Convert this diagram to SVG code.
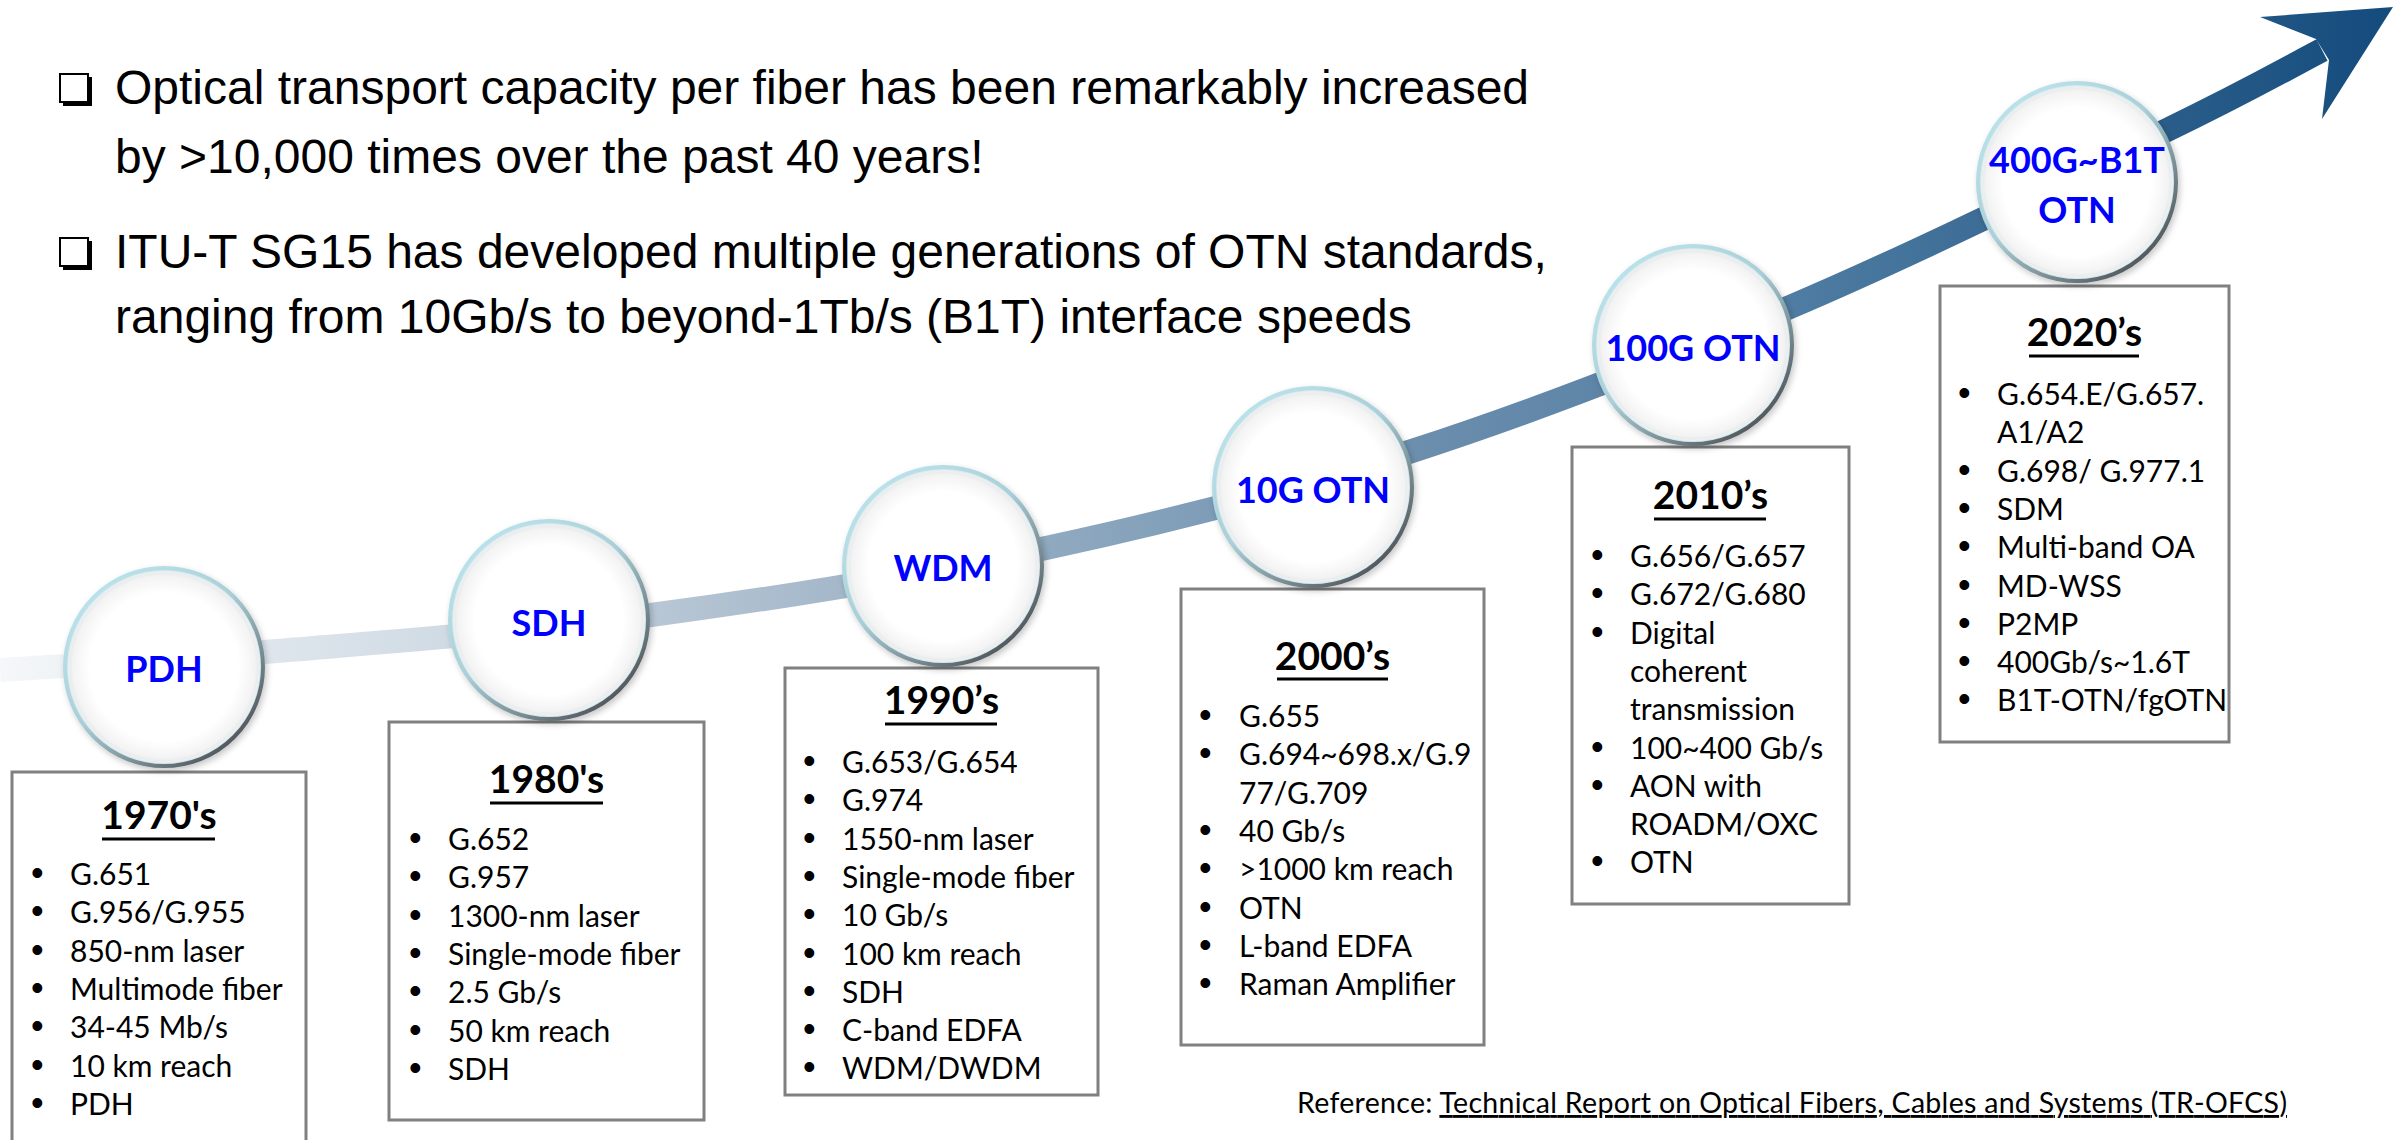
<svg xmlns="http://www.w3.org/2000/svg" width="2402" height="1140" viewBox="0 0 2402 1140">
<defs>
<style>
.title{font-family:"Liberation Sans",Arial,sans-serif;font-size:48px;fill:#000}
.lbl{font-family:Lato,"Open Sans",sans-serif;font-weight:700;font-size:36px;fill:#0000ff;text-anchor:middle}
.hdr{font-family:Lato,"Open Sans",sans-serif;font-weight:700;font-size:39px;fill:#000;text-anchor:middle}
.item{font-family:Lato,"Open Sans",sans-serif;font-size:30px;fill:#000}
.b{font-family:"Liberation Sans",Arial,sans-serif;font-size:36px}
.ref{font-family:Lato,"Open Sans",sans-serif;font-size:28.5px;fill:#000}
.box{fill:#fff;stroke:#808080;stroke-width:3}
.ul{stroke:#000;stroke-width:3}
.glass{fill:url(#glassFill);stroke:url(#rim);stroke-width:4;filter:url(#shadow)}
.hl{fill:none;stroke:#e4f4f8;stroke-width:2;opacity:.8}
.cb{fill:#fff;stroke:#000;stroke-width:2}
</style>
<linearGradient id="bandGrad" gradientUnits="userSpaceOnUse" x1="0" y1="0" x2="2395" y2="0">
<stop offset="0" stop-color="#f5f7f9"/>
<stop offset="0.11" stop-color="#dfe6ed"/>
<stop offset="0.19" stop-color="#cfdae4"/>
<stop offset="0.31" stop-color="#aebfcf"/>
<stop offset="0.44" stop-color="#8fa9c0"/>
<stop offset="0.54" stop-color="#7596b3"/>
<stop offset="0.63" stop-color="#6589aa"/>
<stop offset="0.75" stop-color="#4e7ca2"/>
<stop offset="0.84" stop-color="#3a6a94"/>
<stop offset="0.90" stop-color="#2b5e8a"/>
<stop offset="1" stop-color="#134b7d"/>
</linearGradient>
<radialGradient id="glassFill" cx="0.5" cy="0.5" r="0.5">
<stop offset="0" stop-color="#ffffff"/>
<stop offset="0.75" stop-color="#ffffff"/>
<stop offset="0.92" stop-color="#f3f3f3"/>
<stop offset="1" stop-color="#dcdcdc"/>
</radialGradient>
<linearGradient id="rim" x1="0.15" y1="0.1" x2="0.85" y2="0.9">
<stop offset="0" stop-color="#b9e3ec"/>
<stop offset="0.45" stop-color="#a9cfd8"/>
<stop offset="1" stop-color="#4f565c"/>
</linearGradient>
<filter id="shadow" x="-20%" y="-20%" width="140%" height="140%">
<feDropShadow dx="2" dy="3" stdDeviation="3" flood-color="#000" flood-opacity="0.22"/>
</filter>
</defs>
<rect width="2402" height="1140" fill="#fff"/>

<g id="title-bullets">
<rect class="cb" x="60" y="74" width="28" height="28"/>
<rect x="63" y="101" width="29" height="5" fill="#000"/>
<rect x="87" y="77" width="5" height="29" fill="#000"/>
<text class="title" x="115" y="104">Optical transport capacity per fiber has been remarkably increased</text>
<text class="title" x="115" y="173">by &gt;10,000 times over the past 40 years!</text>
<rect class="cb" x="60" y="238" width="28" height="28"/>
<rect x="63" y="265" width="29" height="5" fill="#000"/>
<rect x="87" y="241" width="5" height="29" fill="#000"/>
<text class="title" x="115" y="268">ITU-T SG15 has developed multiple generations of OTN standards,</text>
<text class="title" x="115" y="333">ranging from 10Gb/s to beyond-1Tb/s (B1T) interface speeds</text>
</g>

<g id="connectors">
<path d="M0,670 C44.2,667 156.5,661.2 265,652 C373.5,642.8 520.8,632.3 651,615 C781.2,597.7 919.2,575.3 1046,548 C1172.8,520.7 1288,491.2 1412,451 C1536,410.8 1664.8,360.2 1790,307 C1915.2,253.8 2074.3,174.8 2163,132 C2251.7,89.2 2295.5,63.7 2322,50" fill="none" stroke="url(#bandGrad)" stroke-width="24"/>
<polygon points="2316,39 2260,17 2393,7 2322,119 2329,60" fill="url(#bandGrad)"/>
</g>

<g id="box-1970s">
<rect class="box" x="12" y="772" width="294" height="390"/>
<text class="hdr" x="159" y="829">1970's</text>
<line class="ul" x1="102" y1="839" x2="215" y2="839"/>
<text class="item"><tspan class="b" x="31" y="885">•</tspan><tspan x="70">G.651</tspan><tspan class="b" x="31" y="923.3">•</tspan><tspan x="70">G.956/G.955</tspan><tspan class="b" x="31" y="961.6">•</tspan><tspan x="70">850-nm laser</tspan><tspan class="b" x="31" y="999.9">•</tspan><tspan x="70">Multimode fiber</tspan><tspan class="b" x="31" y="1038.2">•</tspan><tspan x="70">34-45 Mb/s</tspan><tspan class="b" x="31" y="1076.5">•</tspan><tspan x="70">10 km reach</tspan><tspan class="b" x="31" y="1114.8">•</tspan><tspan x="70">PDH</tspan></text>
</g>

<g id="box-1980s">
<rect class="box" x="389" y="722" width="315" height="398"/>
<text class="hdr" x="546.5" y="793">1980's</text>
<line class="ul" x1="490" y1="803" x2="603" y2="803"/>
<text class="item"><tspan class="b" x="409" y="850">•</tspan><tspan x="448">G.652</tspan><tspan class="b" x="409" y="888.3">•</tspan><tspan x="448">G.957</tspan><tspan class="b" x="409" y="926.6">•</tspan><tspan x="448">1300-nm laser</tspan><tspan class="b" x="409" y="964.9">•</tspan><tspan x="448">Single-mode fiber</tspan><tspan class="b" x="409" y="1003.2">•</tspan><tspan x="448">2.5 Gb/s</tspan><tspan class="b" x="409" y="1041.5">•</tspan><tspan x="448">50 km reach</tspan><tspan class="b" x="409" y="1079.8">•</tspan><tspan x="448">SDH</tspan></text>
</g>

<g id="box-1990s">
<rect class="box" x="785" y="668" width="313" height="427"/>
<text class="hdr" x="941.5" y="714">1990’s</text>
<line class="ul" x1="885" y1="724" x2="997" y2="724"/>
<text class="item"><tspan class="b" x="803" y="773">•</tspan><tspan x="842">G.653/G.654</tspan><tspan class="b" x="803" y="811.3">•</tspan><tspan x="842">G.974</tspan><tspan class="b" x="803" y="849.6">•</tspan><tspan x="842">1550-nm laser</tspan><tspan class="b" x="803" y="887.9">•</tspan><tspan x="842">Single-mode fiber</tspan><tspan class="b" x="803" y="926.2">•</tspan><tspan x="842">10 Gb/s</tspan><tspan class="b" x="803" y="964.5">•</tspan><tspan x="842">100 km reach</tspan><tspan class="b" x="803" y="1002.8">•</tspan><tspan x="842">SDH</tspan><tspan class="b" x="803" y="1041.1">•</tspan><tspan x="842">C-band EDFA</tspan><tspan class="b" x="803" y="1079.4">•</tspan><tspan x="842">WDM/DWDM</tspan></text>
</g>

<g id="box-2000s">
<rect class="box" x="1181" y="589" width="303" height="456"/>
<text class="hdr" x="1332.5" y="670">2000’s</text>
<line class="ul" x1="1277" y1="679" x2="1388" y2="679"/>
<text class="item"><tspan class="b" x="1199" y="727">•</tspan><tspan x="1239">G.655</tspan><tspan class="b" x="1199" y="765.3">•</tspan><tspan x="1239">G.694~698.x/G.9</tspan><tspan x="1239" y="803.6">77/G.709</tspan><tspan class="b" x="1199" y="841.9">•</tspan><tspan x="1239">40 Gb/s</tspan><tspan class="b" x="1199" y="880.2">•</tspan><tspan x="1239">&gt;1000 km reach</tspan><tspan class="b" x="1199" y="918.5">•</tspan><tspan x="1239">OTN</tspan><tspan class="b" x="1199" y="956.8">•</tspan><tspan x="1239">L-band EDFA</tspan><tspan class="b" x="1199" y="995.1">•</tspan><tspan x="1239">Raman Amplifier</tspan></text>
</g>

<g id="box-2010s">
<rect class="box" x="1572" y="447" width="277" height="457"/>
<text class="hdr" x="1710.5" y="509">2010’s</text>
<line class="ul" x1="1654" y1="519" x2="1766" y2="519"/>
<text class="item"><tspan class="b" x="1591" y="567">•</tspan><tspan x="1630">G.656/G.657</tspan><tspan class="b" x="1591" y="605.3">•</tspan><tspan x="1630">G.672/G.680</tspan><tspan class="b" x="1591" y="643.6">•</tspan><tspan x="1630">Digital</tspan><tspan x="1630" y="681.9">coherent</tspan><tspan x="1630" y="720.2">transmission</tspan><tspan class="b" x="1591" y="758.5">•</tspan><tspan x="1630">100~400 Gb/s</tspan><tspan class="b" x="1591" y="796.8">•</tspan><tspan x="1630">AON with</tspan><tspan x="1630" y="835.1">ROADM/OXC</tspan><tspan class="b" x="1591" y="873.4">•</tspan><tspan x="1630">OTN</tspan></text>
</g>

<g id="box-2020s">
<rect class="box" x="1940" y="286" width="289" height="456"/>
<text class="hdr" x="2084.5" y="346">2020’s</text>
<line class="ul" x1="2029" y1="356" x2="2139" y2="356"/>
<text class="item"><tspan class="b" x="1958" y="405">•</tspan><tspan x="1997">G.654.E/G.657.</tspan><tspan x="1997" y="443.3">A1/A2</tspan><tspan class="b" x="1958" y="481.6">•</tspan><tspan x="1997">G.698/ G.977.1</tspan><tspan class="b" x="1958" y="519.9">•</tspan><tspan x="1997">SDM</tspan><tspan class="b" x="1958" y="558.2">•</tspan><tspan x="1997">Multi-band OA</tspan><tspan class="b" x="1958" y="596.5">•</tspan><tspan x="1997">MD-WSS</tspan><tspan class="b" x="1958" y="634.8">•</tspan><tspan x="1997">P2MP</tspan><tspan class="b" x="1958" y="673.1">•</tspan><tspan x="1997">400Gb/s~1.6T</tspan><tspan class="b" x="1958" y="711.4">•</tspan><tspan x="1997">B1T-OTN/fgOTN</tspan></text>
</g>

<g id="node-pdh">
<circle class="glass" cx="164" cy="667" r="99"/>
<circle class="hl" cx="164" cy="667" r="95"/>
<text class="lbl" x="164" y="682">PDH</text>
</g>
<g id="node-sdh">
<circle class="glass" cx="549" cy="620" r="99"/>
<circle class="hl" cx="549" cy="620" r="95"/>
<text class="lbl" x="549" y="636">SDH</text>
</g>
<g id="node-wdm">
<circle class="glass" cx="943" cy="566" r="99"/>
<circle class="hl" cx="943" cy="566" r="95"/>
<text class="lbl" x="943" y="581">WDM</text>
</g>
<g id="node-10g">
<circle class="glass" cx="1313" cy="487" r="99"/>
<circle class="hl" cx="1313" cy="487" r="95"/>
<text class="lbl" x="1313" y="503">10G OTN</text>
</g>
<g id="node-100g">
<circle class="glass" cx="1693" cy="345" r="99"/>
<circle class="hl" cx="1693" cy="345" r="95"/>
<text class="lbl" x="1693" y="361">100G OTN</text>
</g>
<g id="node-400g">
<circle class="glass" cx="2077" cy="182" r="99"/>
<circle class="hl" cx="2077" cy="182" r="95"/>
<text class="lbl" x="2077" y="173">400G~B1T</text>
<text class="lbl" x="2077" y="223">OTN</text>
</g>

<g id="reference">
<text class="ref" x="1297" y="1113" textLength="990">Reference: <tspan text-decoration="underline">Technical Report on Optical Fibers, Cables and Systems (TR-OFCS)</tspan></text>
</g>
</svg>
